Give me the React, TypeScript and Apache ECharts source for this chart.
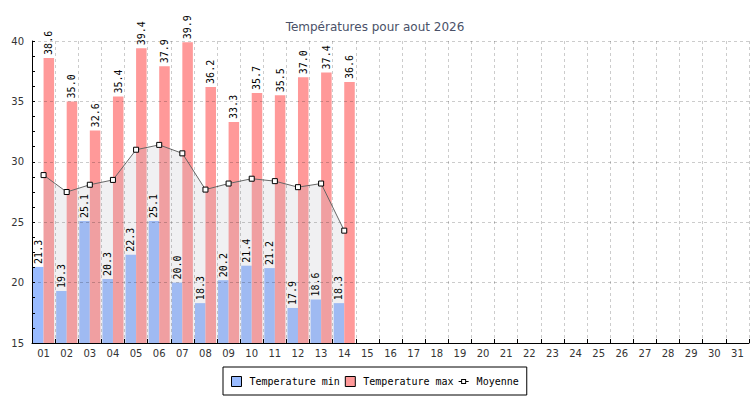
import React, { useEffect, useRef } from "react";
import * as echarts from "echarts";

const days: string[] = [
  "01","02","03","04","05","06","07","08","09","10","11","12","13","14","15","16",
  "17","18","19","20","21","22","23","24","25","26","27","28","29","30","31",
];
const tempMin: (number | string)[] = [
  21.3, 19.3, 25.1, 20.3, 22.3, 25.1, 20.0, 18.3, 20.2, 21.4, 21.2, 17.9, 18.6, 18.3,
  "-", "-", "-", "-", "-", "-", "-", "-", "-", "-", "-", "-", "-", "-", "-", "-", "-",
];
const tempMax: (number | string)[] = [
  38.6, 35.0, 32.6, 35.4, 39.4, 37.9, 39.9, 36.2, 33.3, 35.7, 35.5, 37.0, 37.4, 36.6,
  "-", "-", "-", "-", "-", "-", "-", "-", "-", "-", "-", "-", "-", "-", "-", "-", "-",
];
const moyenne: (number | string)[] = [
  28.9, 27.5, 28.1, 28.5, 31.0, 31.4, 30.7, 27.7, 28.2, 28.6, 28.4, 27.9, 28.2, 24.3,
  "-", "-", "-", "-", "-", "-", "-", "-", "-", "-", "-", "-", "-", "-", "-", "-", "-",
];
const yTicks = { min: 15, max: 40, interval: 5 };

const BLUE = "#99bbff";
const RED = "#ff9999";
const MONO = "DejaVu Sans Mono";
const SANS = "DejaVu Sans";

const moyIcon =
  "path://M0,0 L0.01,0 L0,0.01 Z M10,10 L9.99,10 L10,9.99 Z " +
  "M0,4.5 H2.5 V5.5 H0 Z M7.5,4.5 H10 V5.5 H7.5 Z " +
  "M2.5,2.5 H7.5 V7.5 H2.5 Z M3.5,3.5 V6.5 H6.5 V3.5 Z";

export default function App() {
  const ref = useRef<HTMLDivElement>(null);

  useEffect(() => {
    if (!ref.current) return;
    const chart = echarts.init(ref.current, undefined, { renderer: "svg" });

    const labelCfg = {
      show: true,
      position: "top" as const,
      rotate: 90,
      align: "left" as const,
      verticalAlign: "middle" as const,
      distance: 3,
      fontFamily: MONO,
      fontSize: 10,
      color: "#000",
      formatter: (p: any) => Number(p.value).toFixed(1),
    };

    chart.setOption({
      animation: false,
      title: {
        text: "Températures pour aout 2026",
        left: "center",
        top: 16,
        textStyle: {
          fontFamily: SANS,
          fontSize: 12,
          fontWeight: "normal",
          color: "#4a5168",
        },
      },
      legend: {
        left: 223,
        top: 367,
        orient: "horizontal",
        padding: [9, 8, 8, 8],
        borderColor: "#000",
        borderWidth: 1,
        itemGap: 5,
        itemWidth: 10,
        itemHeight: 10,
        textStyle: {
          fontFamily: MONO,
          fontSize: 10,
          color: "#000",
          padding: [0, 0, 0, 3],
        },
        data: [
          { name: "Temperature min", icon: "rect", itemStyle: { color: BLUE, borderColor: "#000", borderWidth: 1 } },
          { name: "Temperature max", icon: "rect", itemStyle: { color: RED, borderColor: "#000", borderWidth: 1 } },
          { name: "Moyenne", icon: moyIcon, itemStyle: { color: "#000", borderWidth: 0 } },
        ],
      },
      grid: { left: 32, top: 41, right: 1, bottom: 57, containLabel: false },
      xAxis: [
        {
          type: "category",
          data: days,
          z: 10,
          axisLine: { show: true, lineStyle: { color: "#000", width: 1 } },
          axisTick: { show: true, inside: true, length: 4, interval: 0, lineStyle: { color: "#000" } },
          axisLabel: { interval: 0, fontFamily: SANS, fontSize: 10, color: "#333", margin: 5 },
          splitLine: { show: true, interval: 0, lineStyle: { color: "rgba(0,0,0,0.2)", type: [3, 3] } },
        },
        {
          type: "category",
          data: days,
          show: false,
        },
      ],
      yAxis: {
        type: "value",
        min: yTicks.min,
        max: yTicks.max,
        interval: yTicks.interval,
        z: 10,
        axisLine: { show: true, lineStyle: { color: "#000", width: 1 } },
        axisTick: { show: true, inside: true, length: 3, lineStyle: { color: "#000" } },
        minorTick: { show: true, splitNumber: 4, length: 3, lineStyle: { color: "#000" } },
        axisLabel: { fontFamily: SANS, fontSize: 10, color: "#333", margin: 8 },
        splitLine: { show: true, lineStyle: { color: "rgba(0,0,0,0.2)", type: [3, 3] } },
      },
      series: [
        {
          name: "Temperature min",
          type: "bar",
          xAxisIndex: 0,
          data: tempMin,
          barGap: "0%",
          barCategoryGap: "9%",
          itemStyle: { color: BLUE },
          z: 2,
        },
        {
          name: "Temperature max",
          type: "bar",
          xAxisIndex: 0,
          data: tempMax,
          barGap: "0%",
          barCategoryGap: "9%",
          itemStyle: { color: RED },
          z: 2,
        },
        {
          name: "Moyenne",
          type: "line",
          xAxisIndex: 0,
          data: moyenne,
          symbol: "rect",
          symbolSize: 5,
          showAllSymbol: true,
          lineStyle: { color: "#666", width: 1 },
          itemStyle: { color: "#fff", borderColor: "#000", borderWidth: 1 },
          areaStyle: { color: "rgba(185,185,192,0.3)", origin: "start" },
          z: 3,
        },
        {
          name: "lblMin",
          type: "bar",
          xAxisIndex: 1,
          data: tempMin,
          barGap: "0%",
          barCategoryGap: "9%",
          itemStyle: { color: "rgba(0,0,0,0)" },
          label: labelCfg,
          silent: true,
          z: 5,
        },
        {
          name: "lblMax",
          type: "bar",
          xAxisIndex: 1,
          data: tempMax,
          barGap: "0%",
          barCategoryGap: "9%",
          itemStyle: { color: "rgba(0,0,0,0)" },
          label: labelCfg,
          silent: true,
          z: 5,
        },
      ],
    });

    return () => chart.dispose();
  }, []);

  return (
    <div
      ref={ref}
      style={{ position: "fixed", left: 0, top: 0, width: 750, height: 400, background: "#fff" }}
    />
  );
}
